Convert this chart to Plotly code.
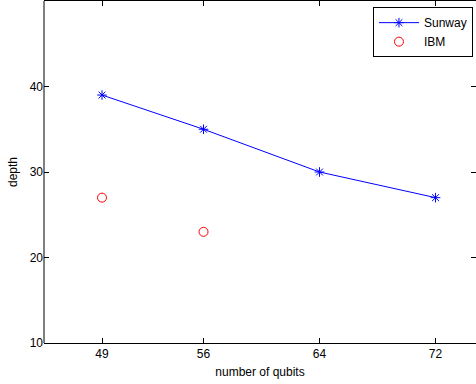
import plotly.graph_objects as go

qubits_sunway = [49, 56, 64, 72]
depth_sunway = [39, 35, 30, 27]
qubits_ibm = [49, 56]
depth_ibm = [27, 23]
x_ticks = [49, 56, 64, 72]
y_ticks = [10, 20, 30, 40]

font = "Liberation Sans, Arial, Helvetica, sans-serif"

fig = go.Figure()
fig.add_trace(go.Scatter(
    x=qubits_sunway, y=depth_sunway, name="Sunway", mode="lines+markers",
    line=dict(color="rgb(0,0,255)", width=1),
    marker=dict(symbol="asterisk-open", size=8, color="rgb(0,0,255)",
                line=dict(color="rgb(0,0,255)", width=1)),
))
fig.add_trace(go.Scatter(
    x=qubits_ibm, y=depth_ibm, name="IBM", mode="markers",
    marker=dict(symbol="circle-open", size=9, color="rgb(255,0,0)",
                line=dict(color="rgb(255,0,0)", width=1)),
))

fig.update_layout(
    width=476, height=384,
    margin=dict(l=44, r=0, t=1, b=41),
    paper_bgcolor="white", plot_bgcolor="white",
    font=dict(family=font, size=12, color="black"),
    showlegend=True,
    legend=dict(x=0.993, y=0.982, xanchor="right", yanchor="top",
                bordercolor="black", borderwidth=1, bgcolor="white",
                font=dict(size=12), tracegroupgap=0, itemwidth=40),
    xaxis=dict(range=[45, 74.79], tickvals=x_ticks, ticktext=[str(v) for v in x_ticks],
               showgrid=False, zeroline=False, showline=True, mirror="ticks",
               linecolor="black", linewidth=1, ticks="inside", ticklen=5,
               tickcolor="black", tickfont=dict(size=12), automargin=False,
               title=dict(text="number of qubits", font=dict(size=12), standoff=7)),
    yaxis=dict(range=[10, 50], tickvals=y_ticks, showgrid=False, zeroline=False,
               showline=False, mirror="ticks", ticks="inside", ticklen=5,
               tickcolor="black", tickfont=dict(size=12), automargin=False,
               title=dict(text="depth", font=dict(size=12), standoff=9)),
    shapes=[dict(type="line", xref="paper", yref="paper", x0=0, x1=0, y0=0, y1=1,
                 line=dict(color="black", width=1))],
)

fig.write_html("out.html", config={"displayModeBar": False},
               post_script="document.body.style.margin='0';document.body.style.padding='0';")
